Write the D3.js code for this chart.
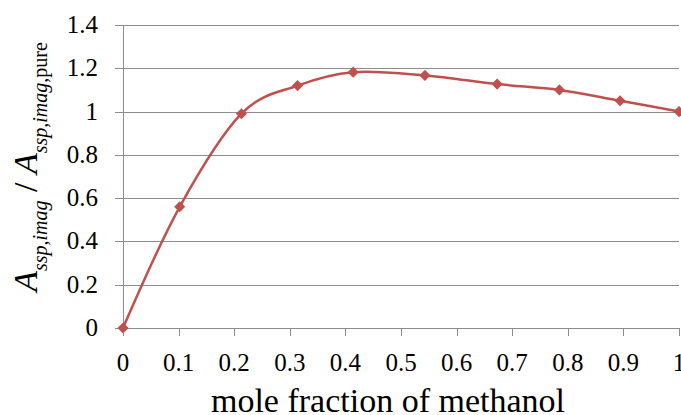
<!DOCTYPE html>
<html>
<head>
<meta charset="utf-8">
<script src="https://cdn.jsdelivr.net/npm/d3@7"></script>
</head>
<body style="margin:0">
<svg id="chart" width="681" height="415" style="display:block"></svg>
<script>
// mole fraction of methanol
const moleFraction = [0, 0.102, 0.213, 0.314, 0.414, 0.543, 0.673, 0.785, 0.894, 1.0];
// A_ssp,imag / A_ssp,imag,pure
const ratio = [0, 0.56, 0.99, 1.12, 1.182, 1.167, 1.127, 1.1, 1.05, 1.0];

const xTicks = [0, 0.1, 0.2, 0.3, 0.4, 0.5, 0.6, 0.7, 0.8, 0.9, 1];
const yTicks = [0, 0.2, 0.4, 0.6, 0.8, 1, 1.2, 1.4];

const seriesColor = "#c0504d";
const gridColor = "#8c8c8c";

const svg = d3.select("#chart");

const plot = { left: 123, right: 679, top: 25, bottom: 328 };

const x = d3.scaleLinear().domain([0, 1]).range([plot.left, plot.right]);
const y = d3.scaleLinear().domain([0, 1.4]).range([plot.bottom, plot.top]);

// Horizontal gridlines (extend past the axis as tick marks)
svg.append("g")
	.attr("class", "grid")
	.selectAll("line")
	.data(yTicks)
	.enter()
		.append("line")
		.attr("x1", plot.left - 8)
		.attr("x2", plot.right)
		.attr("y1", d => Math.round(y(d)) + 0.5)
		.attr("y2", d => Math.round(y(d)) + 0.5)
		.attr("stroke", gridColor)
		.attr("stroke-width", 1);

// Y axis line
svg.append("line")
	.attr("x1", plot.left + 0.5)
	.attr("x2", plot.left + 0.5)
	.attr("y1", plot.top)
	.attr("y2", plot.bottom + 1)
	.attr("stroke", gridColor);

// X axis ticks
svg.append("g")
	.attr("class", "x-ticks")
	.selectAll("line")
	.data(xTicks)
	.enter()
		.append("line")
		.attr("x1", d => Math.round(x(d)) + 0.5)
		.attr("x2", d => Math.round(x(d)) + 0.5)
		.attr("y1", plot.bottom)
		.attr("y2", plot.bottom + 8)
		.attr("stroke", gridColor);

// Y tick labels
svg.append("g")
	.selectAll("text")
	.data(yTicks)
	.enter()
		.append("text")
		.attr("x", 98)
		.attr("y", d => y(d) + 8)
		.attr("text-anchor", "end")
		.attr("font-size", 25)
		.style("font-family", "'Liberation Serif'")
		.attr("fill", "#000")
		.text(d => d3.format("~g")(d));

// X tick labels
svg.append("g")
	.selectAll("text")
	.data(xTicks)
	.enter()
		.append("text")
		.attr("x", d => x(d))
		.attr("y", 371)
		.attr("text-anchor", "middle")
		.attr("font-size", 25)
		.style("font-family", "'Liberation Serif'")
		.attr("fill", "#000")
		.text(d => d3.format("~g")(d));

// X axis title
svg.append("text")
	.attr("x", 388)
	.attr("y", 412)
	.attr("text-anchor", "middle")
	.attr("font-size", 34)
	.style("font-family", "'Liberation Serif'")
	.attr("fill", "#000")
	.text("mole fraction of methanol");

// Y axis title
const yTitle = svg.append("text")
	.attr("transform", "translate(37,167) rotate(-90)")
	.attr("text-anchor", "middle")
	.attr("font-size", 34)
	.style("font-family", "'Liberation Serif'")
	.attr("fill", "#000");

yTitle.append("tspan").attr("font-style", "italic").text("A");
yTitle.append("tspan").attr("font-style", "italic").attr("font-size", 20).attr("dy", 10).text("ssp,imag");
yTitle.append("tspan").attr("dy", -10).text(" / ");
yTitle.append("tspan").attr("font-style", "italic").text("A");
yTitle.append("tspan").attr("font-style", "italic").attr("font-size", 20).attr("dy", 10).text("ssp,imag,");
yTitle.append("tspan").attr("font-size", 20).text("pure");

// Series
const points = moleFraction.map((m, i) => ({ m: m, v: ratio[i] }));

const line = d3.line()
	.x(d => x(d.m))
	.y(d => y(d.v))
	.curve(d3.curveCatmullRom.alpha(0));

svg.append("path")
	.datum(points)
	.attr("d", line)
	.attr("fill", "none")
	.attr("stroke", seriesColor)
	.attr("stroke-width", 2.5);

const marker = d3.symbol().type(d3.symbolSquare).size(62);

svg.append("g")
	.selectAll("path")
	.data(points)
	.enter()
		.append("path")
		.attr("d", marker)
		.attr("transform", d => "translate(" + x(d.m) + "," + y(d.v) + ") rotate(45)")
		.attr("fill", seriesColor);
</script>
</body>
</html>
